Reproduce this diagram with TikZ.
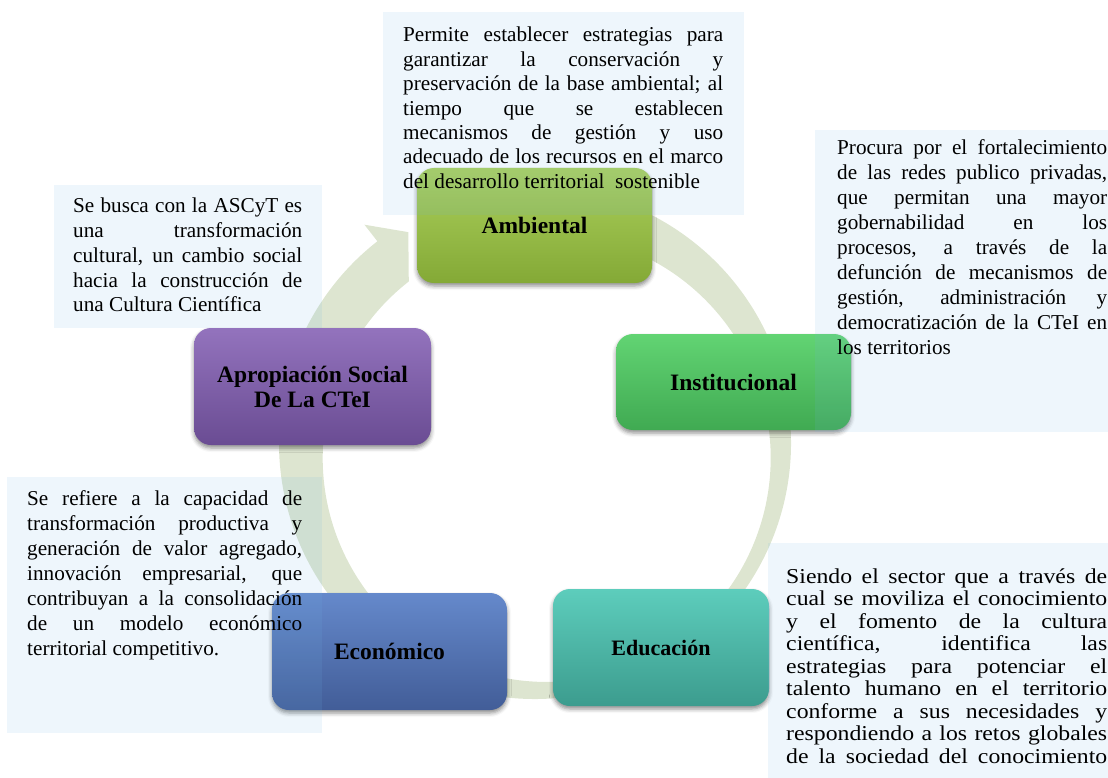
\documentclass[tikz,border=0pt]{standalone}
\usepackage{graphicx}
\usepackage{fontspec}
\setmainfont{Liberation Serif}
\usetikzlibrary{shadows.blur}
\definecolor{ringc}{HTML}{DDE5D0}
\definecolor{tboxc}{HTML}{71B4E6}
\definecolor{ambT}{HTML}{ABD05C}\definecolor{ambB}{HTML}{84A936}
\definecolor{insT}{HTML}{62D473}\definecolor{insB}{HTML}{40AA52}
\definecolor{eduT}{HTML}{5DCDBC}\definecolor{eduB}{HTML}{3C9C8E}
\definecolor{ecoT}{HTML}{6589CB}\definecolor{ecoB}{HTML}{425D98}
\definecolor{aprT}{HTML}{9373BD}\definecolor{aprB}{HTML}{6A4C93}
\hbadness=10000
\newcommand{\jl}[1]{\makebox[\linewidth][s]{#1}\\}
\tikzset{
  cyclebox/.style={rounded corners=17pt, inner sep=0pt, align=center,
    font=\bfseries\fontsize{23.5}{25}\selectfont, text=black,
    blur shadow={shadow xshift=0pt, shadow yshift=-3pt, shadow blur radius=4pt, shadow opacity=45}},
  tbox/.style={fill=tboxc, fill opacity=0.12},
  tpara/.style={inner sep=0pt, anchor=base west, text=black},
}
\begin{document}
\begin{tikzpicture}[x=1pt,y=-1pt]
\useasboundingbox (0,0) rectangle (1108,778);
% continuous cycle ring
\begin{scope}[shift={(535,443)}, x=1pt, y=1pt]
  \fill[ringc] (95:256) arc[start angle=95, end angle=-232, radius=256]
    -- (-232:277) -- (-239:246) -- (-232:205)
    arc[start angle=-232, end angle=95, radius=224] -- cycle;
\end{scope}
% cycle boxes
\node[cyclebox, top color=ambT, bottom color=ambB, minimum width=235pt, minimum height=115pt] (amb) at (534.5,225.5) {Ambiental};
\node[cyclebox, top color=insT, bottom color=insB, minimum width=235pt, minimum height=96pt] (inst) at (733.5,382) {Institucional};
\node[cyclebox, top color=eduT, bottom color=eduB, minimum width=216pt, minimum height=117pt, font=\bfseries\fontsize{22}{24}\selectfont] (edu) at (661,647.5) {Educación};
\node[cyclebox, top color=ecoT, bottom color=ecoB, minimum width=235pt, minimum height=117pt] (eco) at (389.5,651.5) {Económico};
\node[cyclebox, top color=aprT, bottom color=aprB, minimum width=237pt, minimum height=117pt] (apr) at (312.5,386.5) {Apropiación Social\\De La CTeI};
% text panels
\fill[tbox] (383,12) rectangle (744,215);
\fill[tbox] (815,130) rectangle (1108,432);
\fill[tbox] (54,185) rectangle (322,328);
\fill[tbox] (7,477) rectangle (322,733);
\fill[tbox] (768,543) rectangle (1108,778);
% texts
\node[tpara] (tamb) at (403,42) {\parbox[t]{320pt}{\fontsize{21.2}{24.4}\selectfont
\jl{Permite establecer estrategias para}
\jl{garantizar la conservación y}
\jl{preservación de la base ambiental; al}
\jl{tiempo que se establecen}
\jl{mecanismos de gestión y uso}
\jl{adecuado de los recursos en el marco}
del desarrollo territorial\ \ sostenible}};
\node[tpara] (tins) at (837,155) {\parbox[t]{270pt}{\fontsize{21.2}{25}\selectfont
\jl{Procura por el fortalecimiento}
\jl{de las redes publico privadas,}
\jl{que permitan una mayor}
\jl{gobernabilidad en los}
\jl{procesos, a través de la}
\jl{defunción de mecanismos de}
\jl{gestión, administración y}
\jl{democratización de la CTeI en}
los territorios}};
\node[tpara] (tapr) at (73,213) {\parbox[t]{229pt}{\fontsize{21.2}{24.7}\selectfont
\jl{Se busca con la ASCyT es}
\jl{una transformación}
\jl{cultural, un cambio social}
\jl{hacia la construcción de}
una Cultura Científica}};
\node[tpara] (teco) at (27,505) {\parbox[t]{275pt}{\fontsize{21.2}{25}\selectfont
\jl{Se refiere a la capacidad de}
\jl{transformación productiva y}
\jl{generación de valor agregado,}
\jl{innovación empresarial, que}
\jl{contribuyan a la consolidación}
\jl{de un modelo económico}
territorial competitivo.}};
\node[tpara] (tedu) at (786,583) {\scalebox{1.12}[1]{\parbox[t]{286.6pt}{\fontsize{21.2}{22.5}\selectfont
\jl{Siendo el sector que a través de}
\jl{cual se moviliza el conocimiento}
\jl{y el fomento de la cultura}
\jl{científica, identifica las}
\jl{estrategias para potenciar el}
\jl{talento humano en el territorio}
\jl{conforme a sus necesidades y}
\jl{respondiendo a los retos globales}
\makebox[\linewidth][s]{de la sociedad del conocimiento}}}};
\end{tikzpicture}
\end{document}
